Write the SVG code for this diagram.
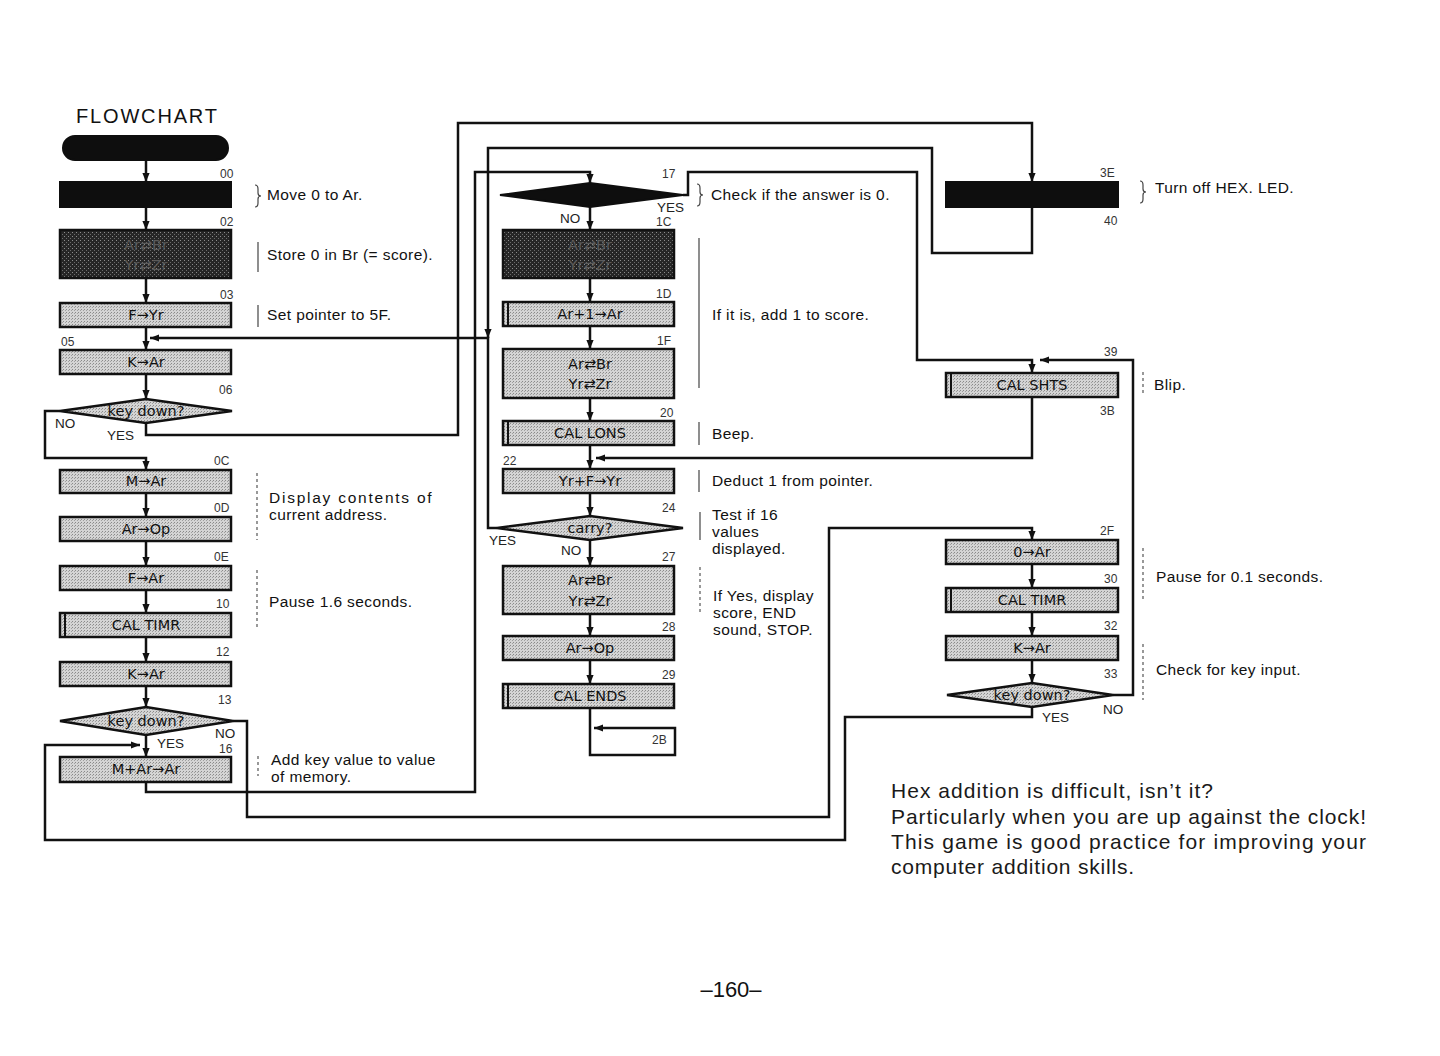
<svg xmlns="http://www.w3.org/2000/svg" width="1440" height="1056" viewBox="0 0 1440 1056">
<defs>
<marker id="ah" viewBox="0 0 10 10" refX="10" refY="5" markerWidth="9" markerHeight="9" orient="auto" markerUnits="userSpaceOnUse"><path d="M0,1 L10,5 L0,9 z" fill="#111"/></marker>
<pattern id="dots" width="3" height="3" patternUnits="userSpaceOnUse"><rect width="3" height="3" fill="#d4d4d4"/><rect width="1" height="1" fill="#8a8a8a"/><rect x="2" y="1" width="1" height="1" fill="#a0a0a0"/></pattern>
<pattern id="darkdots" width="4" height="4" patternUnits="userSpaceOnUse"><rect width="4" height="4" fill="#262626"/><rect width="1" height="1" fill="#8c8c8c"/><rect x="2" y="2" width="1" height="1" fill="#6a6a6a"/></pattern>
</defs>
<style>
.box{fill:url(#dots);stroke:#111;stroke-width:2.5}
.dark{fill:url(#darkdots);stroke:#111;stroke-width:2.5}
.blk{fill:#0e0e0e;stroke:#0e0e0e;stroke-width:2}
.bar{stroke:#111;stroke-width:2}
.t{font-family:"DejaVu Sans","Liberation Sans",sans-serif;font-size:14.5px;fill:#111;text-anchor:middle}
.tf{font-family:"DejaVu Sans","Liberation Sans",sans-serif;font-size:14.5px;fill:#5a5a5a;text-anchor:middle}
.a{font-family:"Liberation Sans",Arial,sans-serif;font-size:12px;fill:#333}
.yn{font-family:"Liberation Sans",Arial,sans-serif;font-size:13.5px;fill:#222}
.n{font-family:"Liberation Sans",Arial,sans-serif;font-size:15.5px;letter-spacing:0.4px;fill:#111}
.p{font-family:"Liberation Sans",Arial,sans-serif;font-size:21px;fill:#1a1a1a}
.w{fill:none;stroke:#111;stroke-width:2.5}
.k{fill:none;stroke:#444;stroke-width:1.2}
.kd{fill:none;stroke:#555;stroke-width:1.2;stroke-dasharray:3 3}
</style>
<rect width="1440" height="1056" fill="#ffffff"/>

<text x="76" y="123" font-family="Liberation Sans,Arial,sans-serif" font-size="20" fill="#111" textLength="141">FLOWCHART</text>

<g id="connectors">
<path class="w" d="M146,161 V182" marker-end="url(#ah)"/>
<path class="w" d="M146,207 V230" marker-end="url(#ah)"/>
<path class="w" d="M146,278 V303" marker-end="url(#ah)"/>
<path class="w" d="M146,327 V350" marker-end="url(#ah)"/>
<path class="w" d="M146,374 V399" marker-end="url(#ah)"/>
<path class="w" d="M60,411 H45 V458 H146 V470" marker-end="url(#ah)"/>
<path class="w" d="M146,423 V435 H458 V123 H1032 V182" marker-end="url(#ah)"/>
<path class="w" d="M1032,207 V253 H932 V148 H488 V338" marker-end="url(#ah)"/>
<path class="w" d="M497,528 H488 V338 H150" marker-end="url(#ah)"/>
<path class="w" d="M146,493 V517" marker-end="url(#ah)"/>
<path class="w" d="M146,541 V566" marker-end="url(#ah)"/>
<path class="w" d="M146,590 V613" marker-end="url(#ah)"/>
<path class="w" d="M146,637 V662" marker-end="url(#ah)"/>
<path class="w" d="M146,686 V707" marker-end="url(#ah)"/>
<path class="w" d="M146,735 V757" marker-end="url(#ah)"/>
<path class="w" d="M233,721 H247 V817 H829 V528 H1032 V540" marker-end="url(#ah)"/>
<path class="w" d="M146,782 V792 H475 V172 H590 V183" marker-end="url(#ah)"/>
<path class="w" d="M590,207 V230" marker-end="url(#ah)"/>
<path class="w" d="M683,195 H688 V172 H917 V360 H1032 V373" marker-end="url(#ah)"/>
<path class="w" d="M590,278 V302" marker-end="url(#ah)"/>
<path class="w" d="M590,326 V349" marker-end="url(#ah)"/>
<path class="w" d="M590,398 V421" marker-end="url(#ah)"/>
<path class="w" d="M590,445 V469" marker-end="url(#ah)"/>
<path class="w" d="M1032,397 V458 H596" marker-end="url(#ah)"/>
<path class="w" d="M590,493 V516" marker-end="url(#ah)"/>
<path class="w" d="M590,540 V566" marker-end="url(#ah)"/>
<path class="w" d="M590,614 V636" marker-end="url(#ah)"/>
<path class="w" d="M590,660 V684" marker-end="url(#ah)"/>
<path class="w" d="M590,708 V755 H675 V728 H594" marker-end="url(#ah)"/>
<path class="w" d="M1032,564 V588" marker-end="url(#ah)"/>
<path class="w" d="M1032,612 V636" marker-end="url(#ah)"/>
<path class="w" d="M1032,660 V683" marker-end="url(#ah)"/>
<path class="w" d="M1113,695 H1133 V360 H1040" marker-end="url(#ah)"/>
<path class="w" d="M1032,707 V717 H845 V840 H45 V745 H140" marker-end="url(#ah)"/>
</g>

<g id="start"><rect class="blk" x="63" y="136" width="165" height="24" rx="12"/></g>
<g id="n00"><rect class="blk" x="60" y="182" width="171" height="25"/><text class="a" x="220" y="178">00</text></g>
<g id="n02"><rect class="dark" x="60" y="230" width="171" height="48"/><text class="tf" x="146" y="250">Ar⇄Br</text><text class="tf" x="146" y="270">Yr⇄Zr</text><text class="a" x="220" y="226">02</text></g>
<g id="n03"><rect class="box" x="60" y="303" width="171" height="24"/><text class="t" x="146" y="320">F→Yr</text><text class="a" x="220" y="299">03</text></g>
<g id="n05"><rect class="box" x="60" y="350" width="171" height="24"/><text class="t" x="146" y="367">K→Ar</text><text class="a" x="61" y="346">05</text></g>
<g id="n06"><polygon class="box" points="60,411 146,399 232,411 146,423"/><text class="t" x="146" y="416">key down?</text><text class="a" x="219" y="394">06</text><text class="yn" x="55" y="428">NO</text><text class="yn" x="107" y="440">YES</text></g>
<g id="n0C"><rect class="box" x="60" y="470" width="171" height="23"/><text class="t" x="146" y="486">M→Ar</text><text class="a" x="214" y="465">0C</text></g>
<g id="n0D"><rect class="box" x="60" y="517" width="171" height="24"/><text class="t" x="146" y="534">Ar→Op</text><text class="a" x="214" y="512">0D</text></g>
<g id="n0E"><rect class="box" x="60" y="566" width="171" height="24"/><text class="t" x="146" y="583">F→Ar</text><text class="a" x="214" y="561">0E</text></g>
<g id="n10"><rect class="box" x="60" y="613" width="171" height="24"/><line class="bar" x1="65" y1="613" x2="65" y2="637"/><text class="t" x="146" y="630">CAL TIMR</text><text class="a" x="216" y="608">10</text></g>
<g id="n12"><rect class="box" x="60" y="662" width="171" height="24"/><text class="t" x="146" y="679">K→Ar</text><text class="a" x="216" y="656">12</text></g>
<g id="n13"><polygon class="box" points="60,721 146,707 233,721 146,735"/><text class="t" x="146" y="726">key down?</text><text class="a" x="218" y="704">13</text><text class="yn" x="215" y="738">NO</text><text class="yn" x="157" y="748">YES</text></g>
<g id="n16"><rect class="box" x="60" y="757" width="171" height="25"/><text class="t" x="146" y="774">M+Ar→Ar</text><text class="a" x="219" y="753">16</text></g>

<g id="n17"><polygon class="blk" points="500,195 590,183 683,195 590,207"/><text class="a" x="662" y="178">17</text><text class="yn" x="657" y="212">YES</text><text class="yn" x="560" y="223">NO</text></g>
<g id="n1C"><rect class="dark" x="503" y="230" width="171" height="48"/><text class="tf" x="590" y="250">Ar⇄Br</text><text class="tf" x="590" y="270">Yr⇄Zr</text><text class="a" x="656" y="226">1C</text></g>
<g id="n1D"><rect class="box" x="503" y="302" width="171" height="24"/><line class="bar" x1="508" y1="302" x2="508" y2="326"/><text class="t" x="590" y="319">Ar+1→Ar</text><text class="a" x="656" y="298">1D</text></g>
<g id="n1F"><rect class="box" x="503" y="349" width="171" height="49"/><text class="t" x="590" y="369">Ar⇄Br</text><text class="t" x="590" y="389">Yr⇄Zr</text><text class="a" x="657" y="345">1F</text></g>
<g id="n20"><rect class="box" x="503" y="421" width="171" height="24"/><line class="bar" x1="508" y1="421" x2="508" y2="445"/><text class="t" x="590" y="438">CAL LONS</text><text class="a" x="660" y="417">20</text></g>
<g id="n22"><rect class="box" x="503" y="469" width="171" height="24"/><text class="t" x="590" y="486">Yr+F→Yr</text><text class="a" x="503" y="465">22</text></g>
<g id="n24"><polygon class="box" points="497,528 590,516 683,528 590,540"/><text class="t" x="590" y="533">carry?</text><text class="a" x="662" y="512">24</text><text class="yn" x="489" y="545">YES</text><text class="yn" x="561" y="555">NO</text></g>
<g id="n27"><rect class="box" x="503" y="566" width="171" height="48"/><text class="t" x="590" y="585">Ar⇄Br</text><text class="t" x="590" y="606">Yr⇄Zr</text><text class="a" x="662" y="561">27</text></g>
<g id="n28"><rect class="box" x="503" y="636" width="171" height="24"/><text class="t" x="590" y="653">Ar→Op</text><text class="a" x="662" y="631">28</text></g>
<g id="n29"><rect class="box" x="503" y="684" width="171" height="24"/><line class="bar" x1="508" y1="684" x2="508" y2="708"/><text class="t" x="590" y="701">CAL ENDS</text><text class="a" x="662" y="679">29</text></g>
<g id="n2B"><text class="a" x="652" y="744">2B</text></g>

<g id="n3E"><rect class="blk" x="946" y="182" width="172" height="25"/><text class="a" x="1100" y="177">3E</text><text class="a" x="1104" y="225">40</text></g>
<g id="n39"><rect class="box" x="946" y="373" width="172" height="24"/><line class="bar" x1="951" y1="373" x2="951" y2="397"/><text class="t" x="1032" y="390">CAL SHTS</text><text class="a" x="1104" y="356">39</text><text class="a" x="1100" y="415">3B</text></g>
<g id="n2F"><rect class="box" x="946" y="540" width="172" height="24"/><text class="t" x="1032" y="557">0→Ar</text><text class="a" x="1100" y="535">2F</text></g>
<g id="n30"><rect class="box" x="946" y="588" width="172" height="24"/><line class="bar" x1="951" y1="588" x2="951" y2="612"/><text class="t" x="1032" y="605">CAL TIMR</text><text class="a" x="1104" y="583">30</text></g>
<g id="n32"><rect class="box" x="946" y="636" width="172" height="24"/><text class="t" x="1032" y="653">K→Ar</text><text class="a" x="1104" y="630">32</text></g>
<g id="n33"><polygon class="box" points="947,695 1032,683 1113,695 1032,707"/><text class="t" x="1032" y="700">key down?</text><text class="a" x="1104" y="678">33</text><text class="yn" x="1103" y="714">NO</text><text class="yn" x="1042" y="722">YES</text></g>

<g id="notes">
<path class="k" d="M255,185 q3,0 3,4 v4 q0,3 3,3 q-3,0 -3,3 v4 q0,4 -3,4"/>
<text class="n" x="267" y="200">Move 0 to Ar.</text>
<path class="k" d="M258,242 v30"/>
<text class="n" x="267" y="260">Store 0 in Br (= score).</text>
<path class="k" d="M258,305 v22"/>
<text class="n" x="267" y="320">Set pointer to 5F.</text>
<path class="kd" d="M257,473 v67"/>
<text class="n" x="269" y="503" textLength="163" lengthAdjust="spacing">Display contents of</text>
<text class="n" x="269" y="520">current address.</text>
<path class="kd" d="M257,570 v60"/>
<text class="n" x="269" y="607">Pause 1.6 seconds.</text>
<path class="kd" d="M258,756 v20"/>
<text class="n" x="271" y="765">Add key value to value</text>
<text class="n" x="271" y="782">of memory.</text>

<path class="k" d="M697,184 q3,0 3,4 v4 q0,3 3,3 q-3,0 -3,3 v4 q0,4 -3,4"/>
<text class="n" x="711" y="200">Check if the answer is 0.</text>
<path class="k" d="M699,238 v150"/>
<text class="n" x="712" y="320">If it is, add 1 to score.</text>
<path class="k" d="M699,422 v23"/>
<text class="n" x="712" y="439">Beep.</text>
<path class="k" d="M699,470 v22"/>
<text class="n" x="712" y="486">Deduct 1 from pointer.</text>
<path class="k" d="M700,512 v28"/>
<text class="n" x="712" y="520">Test if 16</text>
<text class="n" x="712" y="537">values</text>
<text class="n" x="712" y="554">displayed.</text>
<path class="kd" d="M700,567 v45"/>
<text class="n" x="713" y="601">If Yes, display</text>
<text class="n" x="713" y="618">score, END</text>
<text class="n" x="713" y="635">sound, STOP.</text>

<path class="k" d="M1140,181 q3,0 3,4 v4 q0,3 3,3 q-3,0 -3,3 v4 q0,4 -3,4"/>
<text class="n" x="1155" y="193">Turn off HEX. LED.</text>
<path class="kd" d="M1143,372 v21"/>
<text class="n" x="1154" y="390">Blip.</text>
<path class="kd" d="M1143,548 v52"/>
<text class="n" x="1156" y="582">Pause for 0.1 seconds.</text>
<path class="kd" d="M1143,644 v56"/>
<text class="n" x="1156" y="675">Check for key input.</text>
</g>

<g id="paragraph">
<text class="p" x="891" y="798" textLength="322" lengthAdjust="spacing">Hex addition is difficult, isn’t it?</text>
<text class="p" x="891" y="824" textLength="475" lengthAdjust="spacing">Particularly when you are up against the clock!</text>
<text class="p" x="891" y="849" textLength="475" lengthAdjust="spacing">This game is good practice for improving your</text>
<text class="p" x="891" y="874" textLength="243" lengthAdjust="spacing">computer addition skills.</text>
</g>

<text x="731" y="997" font-family="Liberation Sans,Arial,sans-serif" font-size="22" fill="#111" text-anchor="middle">–160–</text>
</svg>
